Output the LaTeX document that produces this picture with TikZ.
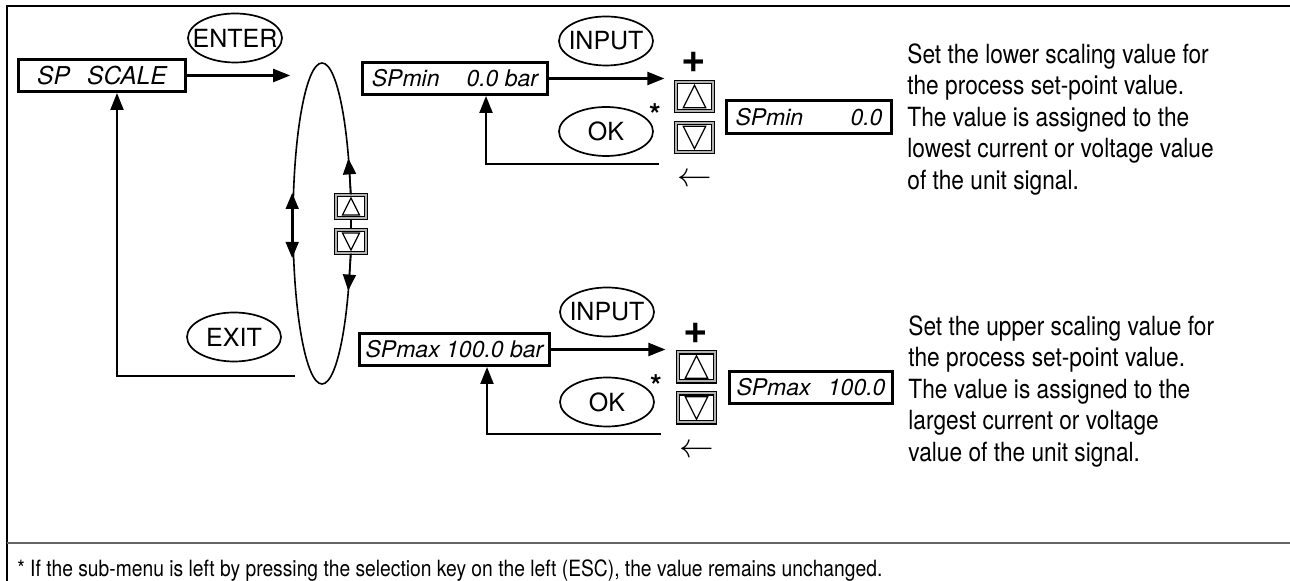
\documentclass[tikz,border=0pt]{standalone}
\usepackage{fontspec}
\setmainfont{TeX Gyre Heros}
\newfontfamily\narrowfont[FakeStretch=0.86]{TeX Gyre Heros}
\usetikzlibrary{arrows.meta, shapes.geometric}

\begin{document}
\begin{tikzpicture}[x=0.5pt, y=-0.5pt,
        lcd/.style={rectangle, draw, line width=1.5pt, fill=white, inner sep=0pt, minimum height=16pt, font=\fontsize{11.5}{13}\selectfont\itshape},
        key/.style={ellipse, draw, line width=0.85pt, inner sep=0pt, minimum width=47pt, minimum height=24.5pt, font=\fontsize{12.5}{14}\selectfont},
        btn/.style={rectangle, draw, line width=0.6pt, double=gray!60, double distance=1pt, fill=white, inner sep=0pt, minimum width=18.5pt, minimum height=14.5pt},
        keyup/.style={btn, path picture={\draw[line width=0.6pt]
            ([shift={(-#1,-#1)}]path picture bounding box.center) -- ([shift={(#1,-#1)}]path picture bounding box.center)
            -- ([shift={(0pt,#1)}]path picture bounding box.center) -- cycle;}},
        keydown/.style={btn, path picture={\draw[line width=0.6pt]
            ([shift={(-#1,#1)}]path picture bounding box.center) -- ([shift={(#1,#1)}]path picture bounding box.center)
            -- ([shift={(0pt,-#1)}]path picture bounding box.center) -- cycle;}},
        arr/.style={-{Triangle[length=8.5pt,width=6.5pt]}, line width=1.1pt},
        looparr/.style={-{Triangle[length=8pt,width=6.5pt]}, line width=0.8pt},
        desc/.style={anchor=base west, inner sep=0pt, align=left, font=\narrowfont\fontsize{13.2}{15.8}\selectfont},
        sym/.style={inner sep=0pt}
    ]
    \useasboundingbox (0,0) rectangle (1290,581);

    % frame
    \draw[line width=1pt] (1290,6) -- (7,6) -- (7,581);
    \draw[line width=1pt, gray!80!black] (7,543) -- (1290,543);

    % main menu
    \node[lcd, minimum width=83.5pt, font=\fontsize{12.3}{14}\selectfont\itshape] (scale) at (102,75.5) {SP\hspace{0.7em}SCALE};
    \node[key] (enter) at (235,38) {\makebox[0pt]{ENTER}};
    \node[key] (exitk) at (234,337) {\makebox[0pt]{EXIT}};
    \node[ellipse, draw, line width=0.8pt, inner sep=0pt, minimum width=29pt, minimum height=160.5pt] (loop) at (322,223.5) {};
    \node[keyup=4.25pt, minimum width=15pt, minimum height=11.5pt] (lup) at (351,206.5) {};
    \node[keydown=4.25pt, minimum width=15pt, minimum height=11.5pt] (ldn) at (351,241.5) {};
    \coordinate (exitend) at (295,376);

    \draw[arr] (scale) -- ([xshift=-1pt]scale -| loop.west);
    \draw[arr] (exitend) -| ([xshift=7.5pt]scale.south);
    \draw[line width=0.8pt, {Triangle[length=8pt,width=6.5pt]}-{Triangle[length=8pt,width=6.5pt]}] ([yshift=15.25pt]loop.west) -- ([yshift=-17.25pt]loop.west);
    \draw[looparr] (lup.north) -- ([xshift=-1.3pt,yshift=18pt]lup.north);
    \draw[looparr] (ldn.south) -- ([xshift=-1.4pt,yshift=-18.5pt]ldn.south);

    % SPmin
    \node[lcd, minimum width=92.5pt] (minbar) at (455,78.5) {SPmin\hspace{13.5pt}0.0 bar};
    \node[key] (input1) at (606,41) {\makebox[0pt]{INPUT}};
    \node[key] (ok1) at (606,131.5) {\makebox[0pt]{OK}};
    \node[keyup=5.6pt] (minup) at (694.5,96.5) {};
    \node[keydown=5.6pt] (mindn) at (694.5,137.5) {};
    \node[sym, font=\fontsize{21}{21}\selectfont\bfseries] (plus1) at (694,62) {+};
    \node[sym, font=\fontsize{18}{18}\selectfont] (back1) at (695,180) {$\leftarrow$};
    \node[sym, font=\fontsize{15}{15}\selectfont\bfseries] (star1) at (655,115) {*};
    \node[lcd, inner xsep=4.5pt, text width=73.5pt, minimum width=82.5pt, minimum height=16.5pt] (minval) at (809,117) {SPmin\hfill 0.0};
    \coordinate (ret1) at (659,164);

    \draw[arr] (minbar) -- ([xshift=-5.5pt]minbar -| minup.west);
    \draw[arr] (ret1) -| ([xshift=15.5pt]minbar.south);

    \node[desc] (desc1) at (907,189.5) {Set the lower scaling value for\\the process set-point value.\\The value is assigned to the\\lowest current or voltage value\\of the unit signal.};

    % SPmax
    \node[lcd, minimum width=95pt] (maxbar) at (454.5,349.5) {SPmax 100.0 bar};
    \node[key] (input2) at (607,312) {\makebox[0pt]{INPUT}};
    \node[key] (ok2) at (607,402) {\makebox[0pt]{OK}};
    \node[keyup=5.6pt] (maxup) at (696.5,367) {};
    \node[keydown=5.6pt] (maxdn) at (696.5,408) {};
    \node[sym, font=\fontsize{21}{21}\selectfont\bfseries] (plus2) at (696,333) {+};
    \node[sym, font=\fontsize{18}{18}\selectfont] (back2) at (697,451) {$\leftarrow$};
    \node[sym, font=\fontsize{15}{15}\selectfont\bfseries] (star2) at (656,386) {*};
    \node[lcd, inner xsep=3.5pt, text width=74.5pt, minimum width=81.5pt] (maxval) at (811,387.5) {SPmax\hfill 100.0};
    \coordinate (ret2) at (661,434);

    \draw[arr] (maxbar) -- ([xshift=-6pt]maxbar -| maxup.west);
    \draw[arr] (ret2) -| ([xshift=16.25pt]maxbar.south);

    \node[desc] (desc2) at (908,461.5) {Set the upper scaling value for\\the process set-point value.\\The value is assigned to the\\largest current or voltage\\value of the unit signal.};

    % footnote
    \node[desc, font=\narrowfont\fontsize{11.2}{13}\selectfont] (note) at (17,577) {* If the sub-menu is left by pressing the selection key on the left (ESC), the value remains unchanged.};
\end{tikzpicture}
\end{document}
